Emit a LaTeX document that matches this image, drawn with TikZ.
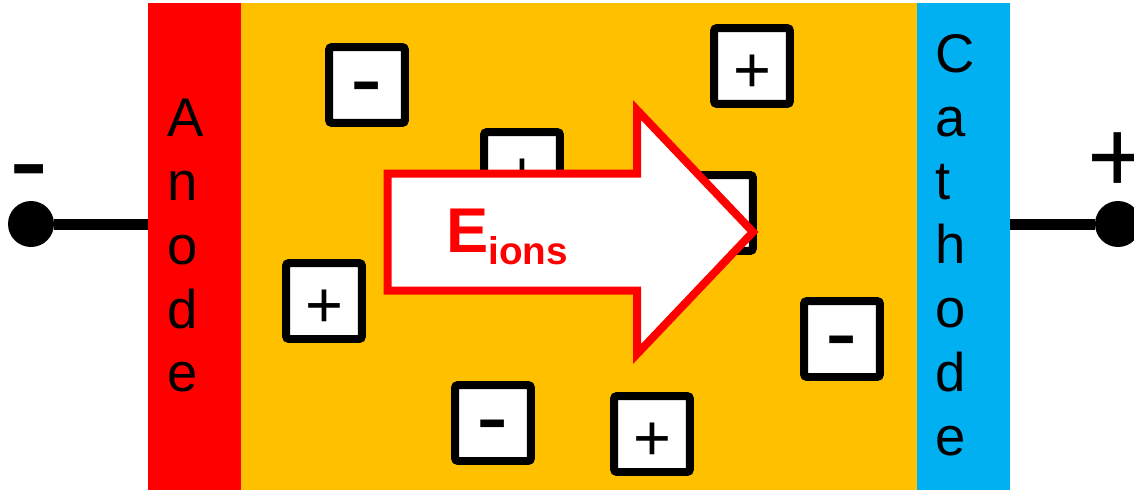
\documentclass[tikz,border=0pt]{standalone}
\usepackage{fontspec}
\setmainfont{Liberation Sans}
\usetikzlibrary{positioning}
\definecolor{anodered}{HTML}{FF0000}
\definecolor{electrolyte}{HTML}{FFC000}
\definecolor{cathodeblue}{HTML}{00B0F0}
\tikzset{
  electrode/.style = {inner sep=0pt, outer sep=0pt, minimum width=1.86cm, minimum height=9.74cm},
  letters/.style   = {align=left, inner sep=0pt, anchor=north west, font=\fontsize{31}{36.3}\selectfont},
  terminal/.style  = {circle, fill=black, inner sep=0pt, minimum size=0.92cm},
  wire/.style      = {line width=0.22cm},
  charge/.style    = {draw, line width=0.16cm, fill=white, rounded corners=0.06cm, minimum size=1.52cm,
                      inner sep=0pt, text height=1.07cm, text depth=0pt},
  poscharge/.style = {charge, font=\fontsize{37}{40}\selectfont},
  negcharge/.style = {charge, font=\fontsize{55}{60}\selectfont}
}

\begin{document}
\begin{tikzpicture}[x=0.02cm, y=-0.02cm,
  efield/.style={draw=red, line width=0.16cm, fill=white, miter limit=4}
]
  \useasboundingbox (0,0) rectangle (1134,491);

  % cell
  \node[electrode, fill=anodered] (anode) at (194.5,246.5) {};
  \node[electrode, fill=electrolyte, minimum width=13.52cm, right=0pt of anode] (bath) {};
  \node[electrode, fill=cathodeblue, right=0pt of bath] (cathode) {};
  \node[letters] (anodetext) at (167,99) {A\\n\\o\\d\\e};
  \node[letters] (cathodetext) at (935,34) {C\\a\\t\\h\\o\\d\\e};

  % terminals
  \node[terminal] (neg) at (31,224) {};
  \node[terminal] (pos) at (1118,224) {};
  \draw[wire] (neg) -- (neg -| anode.west);
  \draw[wire] (cathode.east |- pos) -- (pos);
  \node[inner sep=0pt, anchor=base, font=\fontsize{67}{70}\selectfont] (neglabel) at (29,200) {-};
  \node[inner sep=0pt, anchor=base, font=\fontsize{59}{62}\selectfont] (poslabel) at (1118,192) {+};

  % ions
  \node[negcharge] (ion1) at (367,85) {-};
  \node[poscharge] (ion2) at (752,66) {+};
  \node[poscharge] (ion3) at (324,301) {+};
  \node[negcharge] (ion4) at (493,423) {-};
  \node[poscharge] (ion5) at (652,434) {+};
  \node[negcharge] (ion6) at (842,339) {-};
  \node[poscharge] (ion7) at (522,170) {+};
  \node[negcharge] (ion8) at (715,213) {-};

  % field arrow
  \draw[efield] (387.5,173.5) -- (637,173.5) -- (637,110) -- (753,232)
    -- (637,354) -- (637,290.5) -- (387.5,290.5) -- cycle;
  \node[inner sep=0pt, anchor=base west, text=red, font=\bfseries] (fieldlabel) at (446,252)
    {\fontsize{36}{40}\selectfont E\raisebox{-0.24cm}{\fontsize{22}{26}\selectfont ions}};
\end{tikzpicture}
\end{document}
